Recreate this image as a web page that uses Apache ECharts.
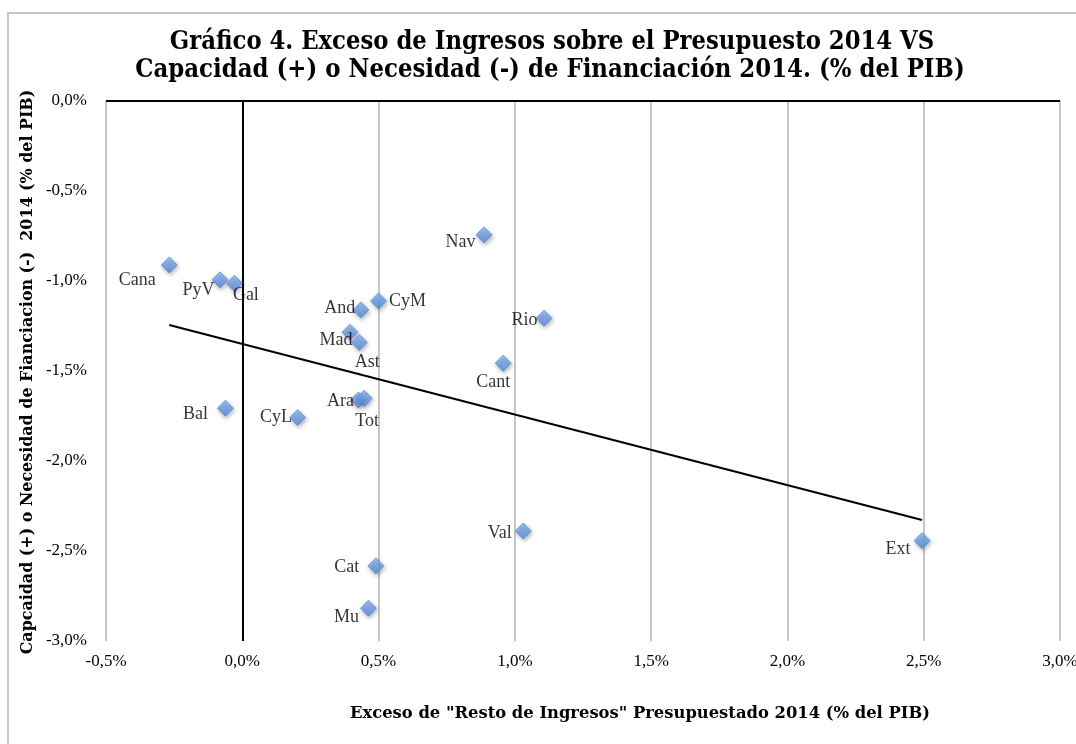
<!DOCTYPE html>
<html>
<head>
<meta charset="utf-8">
<script src="https://cdn.jsdelivr.net/npm/echarts@6/dist/echarts.min.js"></script>
<style>
html,body{margin:0;padding:0;background:#fff;overflow:hidden;}
#chart{width:1076px;height:744px;}
</style>
</head>
<body>
<div id="chart"></div>
<script>
// ---- data ----
const regions = ['Cana','PyV','Gal','Bal','CyL','And','CyM','Mad','Ast','Ara','Tot','Nav','Rio','Cant','Val','Cat','Mu','Ext'];
const excesoIngresos = [-0.268,-0.082,-0.029,-0.062,0.203,0.435,0.500,0.395,0.429,0.426,0.447,0.887,1.107,0.957,1.031,0.490,0.463,2.494];
const capacidadFinanciacion = [-0.911,-0.994,-1.013,-1.707,-1.759,-1.161,-1.111,-1.285,-1.341,-1.661,-1.652,-0.744,-1.207,-1.457,-2.389,-2.583,-2.818,-2.443];
const trendX = [-0.268, 2.494];
const trendY = [-1.244, -2.328];
const xTicks = [-0.5, 0, 0.5, 1.0, 1.5, 2.0, 2.5, 3.0];
const yTicks = [-3.0, -2.5, -2.0, -1.5, -1.0, -0.5, 0.0];
const titleLines = ['Gráfico 4. Exceso de Ingresos sobre el Presupuesto 2014 VS', 'Capacidad (+) o Necesidad (-) de Financiación 2014. (% del PIB)'];
const xName = 'Exceso de "Resto de Ingresos" Presupuestado 2014 (% del PIB)';
const yName = 'Capcaidad (+) o Necesidad de Fianciacion (-)  2014 (% del PIB)';

// ---- label placement (style only) ----
const labelLayout = {
  Cana:['left',[0,15]], PyV:['left',[8,10]], Gal:['right',[-15,12]], Bal:['left',[-4,6]],
  CyL:['left',[8,0]], And:['left',[8,-2]], CyM:['right',[-3,0]], Mad:['left',[16,8]],
  Ast:['bottom',[8,-3]], Ara:['left',[9,1]], Tot:['bottom',[3,0]], Nav:['left',[5,7]],
  Rio:['left',[7,2]], Cant:['bottom',[-10,-3]], Val:['left',[2,2]], Cat:['left',[-3,1]],
  Mu:['left',[4,9]], Ext:['left',[2,9]]
};

const fmt = v => v.toFixed(1).replace('.', ',') + '%';
const serif = "'Liberation Serif', 'DejaVu Serif', serif";
const headFamily = "'DejaVu Serif', serif";

// pick a bold font size so a text spans the same width as in the reference
const measureCtx = document.createElement('canvas').getContext('2d');
function fitFont(text, targetWidth) {
  measureCtx.font = "bold 20px " + headFamily;
  const w = measureCtx.measureText(text).width;
  const size = 20 * targetWidth / w;
  return "bold " + size.toFixed(2) + "px " + headFamily;
}

const points = regions.map((n, i) => ({
  name: n,
  value: [excesoIngresos[i], capacidadFinanciacion[i]],
  label: { position: labelLayout[n][0], offset: labelLayout[n][1] }
}));

const chart = echarts.init(document.getElementById('chart'), null, {renderer:'canvas', width:1076, height:744});
chart.setOption({
  backgroundColor: '#fff',
  animation: false,
  grid: { left: 106, right: 16, top: 101, bottom: 103, containLabel: false, outerBoundsMode: 'none' },
  xAxis: {
    type: 'value', min: xTicks[0], max: xTicks[xTicks.length-1], interval: 0.5,
    axisLine: { show: false }, axisTick: { show: false },
    axisLabel: { formatter: fmt, color: '#000', fontFamily: serif, fontSize: 17, margin: 12 },
    splitLine: { show: true, lineStyle: { color: '#c6c6c6', width: 2 } }
  },
  yAxis: {
    type: 'value', min: yTicks[0], max: yTicks[yTicks.length-1], interval: 0.5,
    axisLine: { show: false }, axisTick: { show: false },
    axisLabel: { formatter: fmt, color: '#000', fontFamily: serif, fontSize: 17, margin: 19 },
    splitLine: { show: false }
  },
  series: [
    {
      type: 'line', data: trendX.map((x, i) => [x, trendY[i]]),
      symbol: 'none', lineStyle: { color: '#000', width: 2 }, silent: true, z: 3,
      markLine: {
        silent: true, symbol: 'none', label: { show: false },
        lineStyle: { color: '#000', width: 2, type: 'solid' },
        data: [{ xAxis: 0 }, { yAxis: 0 }]
      }
    },
    {
      type: 'scatter', data: points, symbol: 'diamond', symbolSize: 16, z: 5,
      itemStyle: {
        color: new echarts.graphic.LinearGradient(0, 0, 0, 1, [
          { offset: 0, color: '#8ab8f2' }, { offset: 1, color: '#5088dc' }
        ]),
        borderColor: '#5b8fd9', borderWidth: 1,
        shadowBlur: 4, shadowColor: 'rgba(0,0,0,0.35)', shadowOffsetX: 1, shadowOffsetY: 2
      },
      label: {
        show: true, formatter: p => p.name, color: '#000',
        fontFamily: serif, fontSize: 18, distance: 5
      }
    }
  ],
  graphic: [
    { type: 'rect', shape: { x: 8, y: 13, width: 1200, height: 900 }, style: { fill: 'none', stroke: '#c8c8c8', lineWidth: 2 }, z: -1, silent: true },
    { type: 'text', x: 552, y: 42, scaleY: 1.12, style: { text: titleLines[0], font: fitFont(titleLines[0], 765), fill: '#000', textAlign: 'center', textVerticalAlign: 'middle' } },
    { type: 'text', x: 550, y: 70, scaleY: 1.12, style: { text: titleLines[1], font: fitFont(titleLines[1], 830), fill: '#000', textAlign: 'center', textVerticalAlign: 'middle' } },
    { type: 'text', x: 640, y: 714, style: { text: xName, font: fitFont(xName, 580), fill: '#000', textAlign: 'center', textVerticalAlign: 'middle' } },
    { type: 'text', x: 28, y: 372, rotation: Math.PI / 2, style: { text: yName, font: fitFont(yName, 565), fill: '#000', textAlign: 'center', textVerticalAlign: 'middle' } }
  ]
});
</script>
</body>
</html>
